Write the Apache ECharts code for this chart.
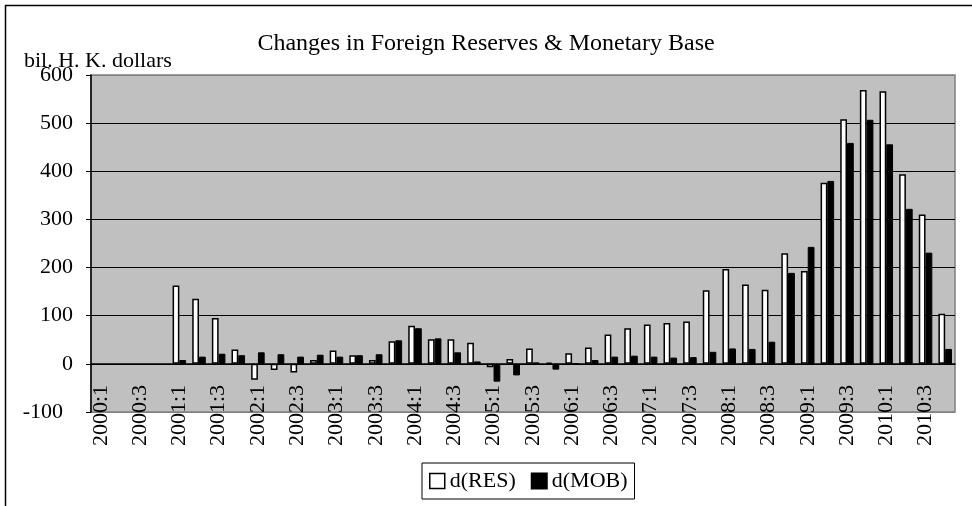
<!DOCTYPE html>
<html>
<head>
<meta charset="utf-8">
<script src="https://cdn.jsdelivr.net/npm/echarts@6/dist/echarts.min.js"></script>
<style>
  html, body { margin: 0; padding: 0; background: #fff; }
  #chart { width: 972px; height: 506px; }
</style>
</head>
<body>
<div id="chart"></div>
<script>
// quarters 2000:1 .. 2010:4
var quarters = [
  "2000:1", "2000:2", "2000:3", "2000:4",
  "2001:1", "2001:2", "2001:3", "2001:4",
  "2002:1", "2002:2", "2002:3", "2002:4",
  "2003:1", "2003:2", "2003:3", "2003:4",
  "2004:1", "2004:2", "2004:3", "2004:4",
  "2005:1", "2005:2", "2005:3", "2005:4",
  "2006:1", "2006:2", "2006:3", "2006:4",
  "2007:1", "2007:2", "2007:3", "2007:4",
  "2008:1", "2008:2", "2008:3", "2008:4",
  "2009:1", "2009:2", "2009:3", "2009:4",
  "2010:1", "2010:2", "2010:3", "2010:4"
];

// d(RES), bil. HK$
var resData = [
  null, null, null, null,
  163, 135, 95, 30,
  -33, -13, -18, 8,
  28, 18, 8, 47,
  79, 51, 51, 44,
  -7, 10, 32, 3,
  22, 34, 61, 74,
  82, 85, 88, 153,
  197, 165, 154, 230,
  193, 376, 508, 569,
  566, 394, 310, 104
];

// d(MOB), bil. HK$
var mobData = [
  null, null, null, null,
  8, 15, 21, 18,
  24, 20, 15, 19,
  15, 18, 20, 49,
  74, 53, 24, 5,
  -37, -24, 3, -12,
  1, 8, 15, 17,
  15, 13, 14, 25,
  32, 31, 46, 189,
  243, 380, 459, 507,
  456, 322, 231, 31
];

var yTicks = [-100, 0, 100, 200, 300, 400, 500, 600];

var serif = "'Liberation Serif', 'DejaVu Serif', serif";

var chart = echarts.init(document.getElementById("chart"));

var option = {
  backgroundColor: "#fff",
  animation: false,
  title: {
    text: "Changes in Foreign Reserves & Monetary Base",
    left: "center",
    top: 27,
    textStyle: { fontFamily: serif, fontSize: 24, fontWeight: "normal", color: "#000" }
  },
  graphic: [
    {
      type: "text",
      left: 24,
      top: 50,
      style: { text: "bil. H. K. dollars", font: "22px " + serif, fill: "#000" }
    },
    {
      type: "line",
      shape: { x1: 5, y1: 5.5, x2: 972, y2: 5.5 },
      style: { stroke: "#000", lineWidth: 1.5 }
    },
    {
      type: "line",
      shape: { x1: 5.5, y1: 5, x2: 5.5, y2: 506 },
      style: { stroke: "#000", lineWidth: 1.5 }
    }
  ],
  legend: {
    left: 422,
    top: 463,
    padding: [7, 7],
    itemGap: 15,
    itemWidth: 15,
    itemHeight: 15,
    borderColor: "#000",
    borderWidth: 1,
    textStyle: { fontFamily: serif, fontSize: 22, color: "#000" },
    data: [
      { name: "d(RES)", icon: "rect", itemStyle: { color: "#fff", borderColor: "#000", borderWidth: 1.5 } },
      { name: "d(MOB)", icon: "rect", itemStyle: { color: "#000" } }
    ]
  },
  grid: {
    left: 91,
    top: 75,
    right: 17,
    bottom: 94,
    show: true,
    backgroundColor: "#c0c0c0",
    borderColor: "#808080",
    borderWidth: 1.5,
    outerBoundsMode: "none"
  },
  xAxis: [
    {
      type: "category",
      data: quarters,
      axisLine: { onZero: true, lineStyle: { color: "#000", width: 1.5 } },
      axisTick: { inside: true, length: 7, interval: 0, lineStyle: { color: "#000" } },
      axisLabel: { show: false }
    },
    {
      type: "category",
      data: quarters,
      position: "bottom",
      offset: -27,
      axisLine: { show: false, onZero: false },
      axisTick: { show: false },
      axisLabel: {
        interval: 1,
        rotate: 90,
        margin: 0,
        fontFamily: serif,
        fontSize: 22,
        color: "#000"
      }
    }
  ],
  yAxis: {
    type: "value",
    min: yTicks[0],
    max: yTicks[yTicks.length - 1],
    interval: 100,
    axisLine: { show: true, lineStyle: { color: "#000", width: 1.5 } },
    axisTick: { show: true, length: 5, lineStyle: { color: "#000" } },
    axisLabel: {
      margin: 18,
      fontFamily: serif,
      fontSize: 22,
      color: "#000",
      formatter: function (v) {
        return v < 0 ? "{neg|" + v + "}" : String(v);
      },
      rich: {
        neg: { fontFamily: serif, fontSize: 22, color: "#000", padding: [0, 10, 0, 0] }
      }
    },
    splitLine: {
      show: true,
      lineStyle: { color: ["#808080", "#000", "#000", "#000", "#000", "#000", "#000", "#808080"], width: 1.2 }
    }
  },
  series: [
    {
      name: "d(RES)",
      type: "bar",
      xAxisIndex: 0,
      data: resData,
      barCategoryGap: "31%",
      barGap: "0%",
      itemStyle: { color: "#fff", borderColor: "#000", borderWidth: 1.5 }
    },
    {
      name: "d(MOB)",
      type: "bar",
      xAxisIndex: 0,
      data: mobData,
      barCategoryGap: "31%",
      barGap: "0%",
      itemStyle: { color: "#000", borderColor: "#000", borderWidth: 1 }
    }
  ]
};

chart.setOption(option);
</script>
</body>
</html>
